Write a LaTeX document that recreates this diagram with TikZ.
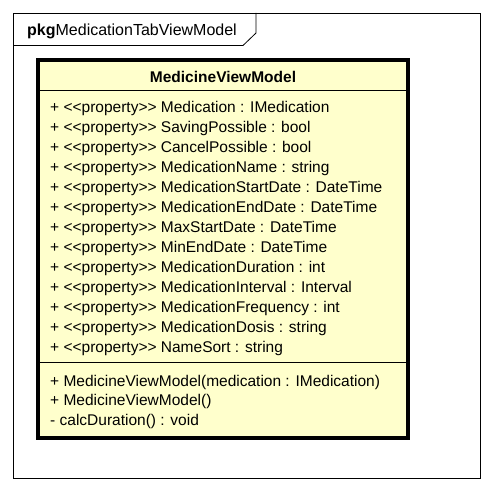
\documentclass[tikz,border=0pt]{standalone}
\usepackage{fontspec}
\setmainfont{Liberation Sans}
\definecolor{classfill}{RGB}{255,255,204}

\begin{document}
\begin{tikzpicture}[x=1pt,y=-1pt,
    member/.style={anchor=base west, inner sep=0pt, font=\fontsize{15.5}{17}\selectfont}]
  \useasboundingbox (0,0) rectangle (494,492);
  % Package frame and tab
  \draw[line width=0.8pt] (13,13) rectangle (480,478);
  \draw[line width=0.8pt] (13,45.5) -- (243,45.5) -- (256,33) -- (256,13);
  \node[member, font=\fontsize{16}{17}\selectfont] (pkg) at (27,36) {\textbf{pkg}MedicationTabViewModel};
  % Class box
  \draw[line width=3.5pt, fill=classfill] (38,60) rectangle (408,438);
  \draw[line width=0.8pt] (38,90) -- (408,90);
  \draw[line width=0.8pt] (38,362) -- (408,362);
  \node[anchor=base, inner sep=0pt, font=\fontsize{15.5}{17}\selectfont\bfseries] (title) at (223,83) {MedicineViewModel};
  % Attributes
  \node[member] (attr1) at (50,112) {+ <{}<property>{}> Medication : IMedication};
  \node[member] (attr2) at (50,132) {+ <{}<property>{}> SavingPossible : bool};
  \node[member] (attr3) at (50,152) {+ <{}<property>{}> CancelPossible : bool};
  \node[member] (attr4) at (50,172) {+ <{}<property>{}> MedicationName : string};
  \node[member] (attr5) at (50,192) {+ <{}<property>{}> MedicationStartDate : DateTime};
  \node[member] (attr6) at (50,212) {+ <{}<property>{}> MedicationEndDate : DateTime};
  \node[member] (attr7) at (50,232) {+ <{}<property>{}> MaxStartDate : DateTime};
  \node[member] (attr8) at (50,252) {+ <{}<property>{}> MinEndDate : DateTime};
  \node[member] (attr9) at (50,272) {+ <{}<property>{}> MedicationDuration : int};
  \node[member] (attr10) at (50,292) {+ <{}<property>{}> MedicationInterval : Interval};
  \node[member] (attr11) at (50,312) {+ <{}<property>{}> MedicationFrequency : int};
  \node[member] (attr12) at (50,332) {+ <{}<property>{}> MedicationDosis : string};
  \node[member] (attr13) at (50,352) {+ <{}<property>{}> NameSort : string};
  % Operations
  \node[member] (op1) at (50,386) {+ MedicineViewModel(medication : IMedication)};
  \node[member] (op2) at (50,405.5) {+ MedicineViewModel()};
  \node[member] (op3) at (50,425) {- calcDuration() : void};
\end{tikzpicture}
\end{document}
